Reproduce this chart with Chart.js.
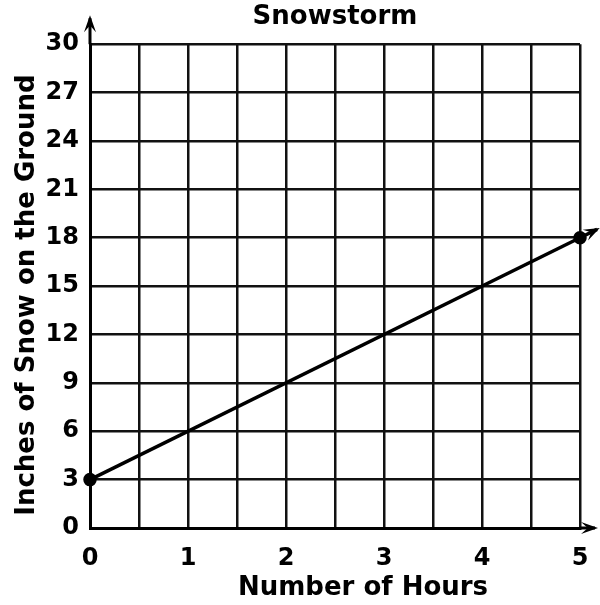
<!DOCTYPE html>
<html>
<head>
<meta charset="utf-8">
<script src="https://cdn.jsdelivr.net/npm/chart.js@4"></script>
<style>
  html, body { margin: 0; padding: 0; background: #fff; }
  #wrap { width: 600px; height: 605px; }
</style>
</head>
<body>
<div id="wrap"><canvas id="snow"></canvas></div>
<script>
const hours = [0, 5];
const inches = [3, 18];
const xTicks = [0, 1, 2, 3, 4, 5];
const yTicks = [0, 3, 6, 9, 12, 15, 18, 21, 24, 27, 30];

const FONT = 'DejaVu Sans, Verdana, sans-serif';

function arrowHead(ctx, x, y, ang, len, half) {
    ctx.save();
    ctx.translate(x, y);
    ctx.rotate(ang);
    ctx.beginPath();
    ctx.moveTo(0, 0);
    ctx.lineTo(-len, -half);
    ctx.lineTo(-len * 0.6, 0);
    ctx.lineTo(-len, half);
    ctx.closePath();
    ctx.fill();
    ctx.restore();
}

// axis titles in the picture sit a little off-centre
function nudgeTitle(scale, dx, dy) {
    if (scale._nudged) return;
    const orig = scale.drawTitle.bind(scale);
    scale.drawTitle = () => {
        scale.ctx.save();
        scale.ctx.translate(dx, dy);
        orig();
        scale.ctx.restore();
    };
    scale._nudged = true;
}

const arrows = {
    id: 'arrows',
    afterLayout(chart) {
        // centre the chart title over the plot area, not the whole canvas
        if (chart.titleBlock) {
            chart.titleBlock.left = chart.chartArea.left;
            chart.titleBlock.right = chart.chartArea.right;
        }
        nudgeTitle(chart.scales.x, 28, 0);
        nudgeTitle(chart.scales.y, 0, 9);
    },
    afterDatasetsDraw(chart) {
        const ctx = chart.ctx;
        const {left, right, top, bottom} = chart.chartArea;
        ctx.save();
        ctx.strokeStyle = '#000';
        ctx.fillStyle = '#000';
        ctx.lineWidth = 3;
        // y axis arrow
        ctx.beginPath();
        ctx.moveTo(left, top);
        ctx.lineTo(left, top - 26);
        ctx.stroke();
        arrowHead(ctx, left, top - 29, -Math.PI / 2, 17, 6);
        // x axis arrow
        ctx.beginPath();
        ctx.moveTo(right, bottom);
        ctx.lineTo(right + 15, bottom);
        ctx.stroke();
        arrowHead(ctx, right + 18, bottom, 0, 17, 6);
        // data line arrow
        const xs = chart.scales.x, ys = chart.scales.y;
        const x0 = xs.getPixelForValue(hours[0]), y0 = ys.getPixelForValue(inches[0]);
        const x1 = xs.getPixelForValue(hours[1]), y1 = ys.getPixelForValue(inches[1]);
        const ang = Math.atan2(y1 - y0, x1 - x0);
        const ex = x1 + Math.cos(ang) * 22, ey = y1 + Math.sin(ang) * 22;
        ctx.lineWidth = 3.5;
        ctx.beginPath();
        ctx.moveTo(x1, y1);
        ctx.lineTo(ex - Math.cos(ang) * 3, ey - Math.sin(ang) * 3);
        ctx.stroke();
        arrowHead(ctx, ex, ey, ang, 16, 6);
        ctx.restore();
    }
};

new Chart(document.getElementById('snow'), {
    type: 'scatter',
    data: {
        datasets: [{
            data: hours.map((h, i) => ({x: h, y: inches[i]})),
            showLine: true,
            borderColor: '#000',
            borderWidth: 3.5,
            pointRadius: 5,
            pointBackgroundColor: '#000',
            pointBorderColor: '#000',
            clip: false
        }]
    },
    options: {
        responsive: true,
        maintainAspectRatio: false,
        animation: false,
        layout: {padding: {left: 0, right: 20, top: 0, bottom: 0}},
        plugins: {
            legend: {display: false},
            tooltip: {enabled: false},
            title: {
                display: true,
                text: 'Snowstorm',
                color: '#000',
                font: {family: FONT, size: 26, weight: 'bold'},
                padding: {top: 2, bottom: 11}
            }
        },
        scales: {
            x: {
                type: 'linear',
                min: 0,
                max: 5,
                afterFit: s => { s.height = 77; s.paddingLeft = 0; s.paddingRight = 0; },
                afterBuildTicks: s => { s.ticks = [0, 0.5, 1, 1.5, 2, 2.5, 3, 3.5, 4, 4.5, 5].map(v => ({value: v})); },
                ticks: {
                    color: '#000',
                    padding: 16,
                    maxRotation: 0,
                    font: {family: FONT, size: 24, weight: 'bold'},
                    callback: v => xTicks.includes(v) ? String(v) : ''
                },
                grid: {color: '#111', lineWidth: 2.5, drawTicks: false},
                border: {color: '#000', width: 3},
                title: {
                    display: true,
                    text: 'Number of Hours',
                    color: '#000',
                    font: {family: FONT, size: 26, weight: 'bold'},
                    padding: {top: 0, bottom: 1}
                }
            },
            y: {
                min: 0,
                max: 30,
                afterFit: s => { s.width = 90; s.paddingTop = 0; s.paddingBottom = 0; },
                afterBuildTicks: s => { s.ticks = yTicks.map(v => ({value: v})); },
                ticks: {
                    color: '#000',
                    padding: 11,
                    font: {family: FONT, size: 24, weight: 'bold'}
                },
                grid: {color: '#111', lineWidth: 2.5, drawTicks: false},
                border: {color: '#000', width: 3},
                title: {
                    display: true,
                    text: 'Inches of Snow on the Ground',
                    color: '#000',
                    font: {family: FONT, size: 26, weight: 'bold'},
                    padding: {top: 12, bottom: 0}
                }
            }
        }
    },
    plugins: [arrows]
});
</script>
</body>
</html>
